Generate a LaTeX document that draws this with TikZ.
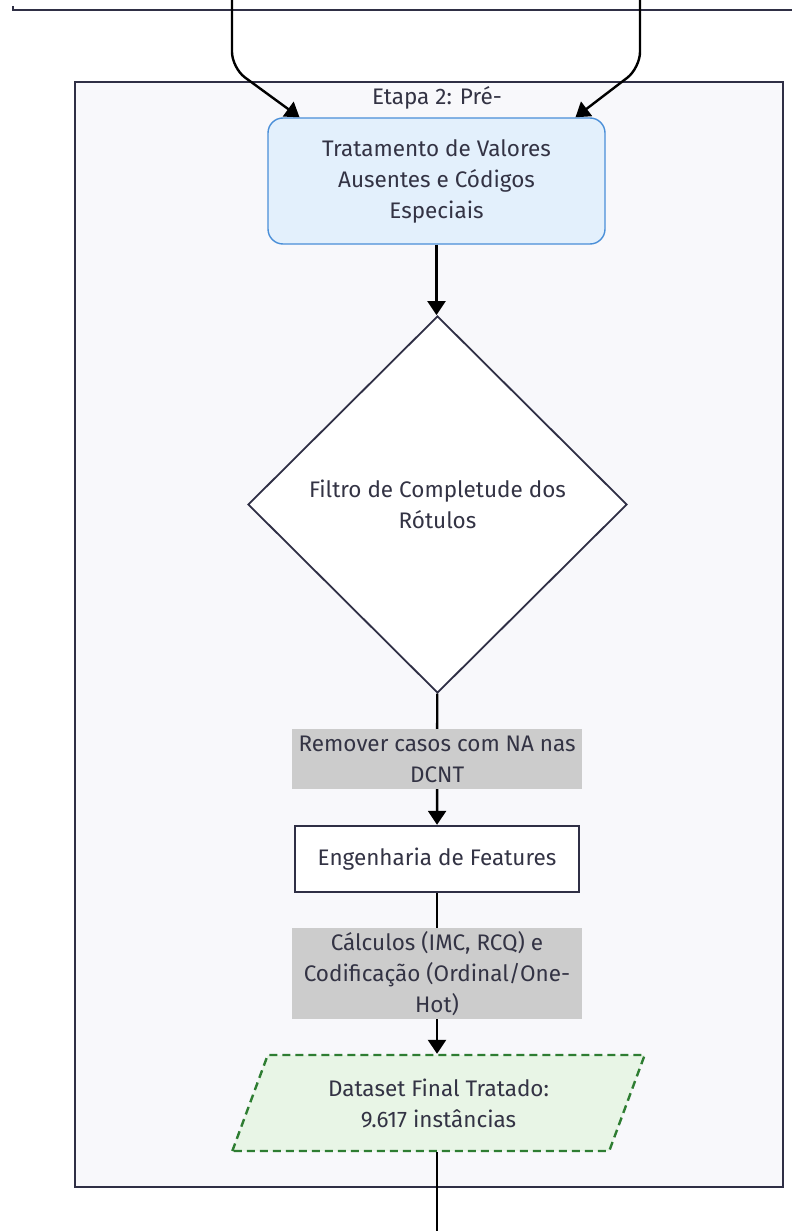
\documentclass[tikz,border=0pt]{standalone}
\usepackage{fontspec}
\setmainfont{Fira Sans}
\usepackage{tikz}
\usetikzlibrary{arrows.meta}
\usetikzlibrary{positioning}
\usetikzlibrary{shapes.geometric}
\tikzset{flow/.style = {draw=black, line width=2.4pt,
                        -{Triangle[length=14pt, width=18pt]}},
         wire/.style = {draw=black, line width=2.4pt},
         edgelbl/.style = {fill=lblgray, text=txtdark, align=center,
                           minimum width=290pt, minimum height=60pt,
                           inner sep=0pt}}
\definecolor{txtdark}{HTML}{333344}
\definecolor{framedark}{HTML}{2F2F45}
\definecolor{clusterbg}{HTML}{F8F8FB}
\definecolor{bluefill}{HTML}{E3F0FC}
\definecolor{blueline}{HTML}{4A8FD8}
\definecolor{lblgray}{HTML}{CCCCCC}
\definecolor{greenfill}{HTML}{E8F5E6}
\definecolor{greenline}{HTML}{2E7D32}

\begin{document}
\begin{tikzpicture}[x=1pt, y=-1pt, font=\fontsize{22.5}{31}\selectfont]
    \useasboundingbox (0, 0) rectangle (792, 1231);

    % bottom edge of the previous stage
    \draw [framedark, line width=2.4pt] (13, 6) -- (13, 10) -- (800, 10);

    % stage frame
    \draw [framedark, fill=clusterbg, line width=2pt] (75, 82) rectangle (783, 1187);
    \node (title) [text=txtdark] at (437, 98) {Etapa 2: Pré-};

    \node (trat) [draw=blueline, fill=bluefill, line width=1.4pt, rounded corners=15pt,
                  text=txtdark, align=center, minimum width=337pt, minimum height=126pt]
          at (436.5, 181) {Tratamento de Valores\\Ausentes e Códigos\\Especiais};

    \node (filtro) [diamond, draw=framedark, fill=white, line width=1.8pt, text=txtdark,
                    align=center, minimum width=379pt, minimum height=377pt, inner sep=0pt]
          at (437.5, 504.5) {Filtro de Completude dos\\Rótulos};

    \node (feat) [draw=framedark, fill=white, line width=2.4pt, text=txtdark,
                  minimum width=284pt, minimum height=66pt]
          at (437, 859) {Engenharia de Features};

    \node (final) [trapezium, trapezium left angle=67, trapezium right angle=113,
                   trapezium stretches=true, draw=greenline, fill=greenfill,
                   dashed, dash pattern=on 8pt off 5pt, line width=2.4pt, text=txtdark,
                   align=center, minimum width=413pt, minimum height=96pt]
          at (438.5, 1103) {Dataset Final Tratado:\\9.617 instâncias};

    % incoming edges from stage 1
    \coordinate (srcL) at (232, 0);
    \coordinate (srcR) at (640, 0);
    \draw [flow, rounded corners=16pt] (srcL) -- (232, 68) -- ([xshift=-137pt]trat.north);
    \draw [flow, rounded corners=16pt] (srcR) -- (640, 68) -- ([xshift=139pt]trat.north);

    \draw [flow] (trat) -- (trat |- filtro.north);
    \draw [flow] (filtro) -- node [edgelbl] {Remover casos com NA nas\\DCNT} (feat);
    \draw [flow] (feat) -- node [edgelbl, minimum height=91pt]
          {Cálculos (IMC, RCQ) e\\Codificação (Ordinal/One-\\Hot)} (feat |- final.north);

    % outgoing edge to the next stage
    \coordinate (sink) at (437, 1231);
    \draw [wire] (feat |- final.south) -- (sink);
  \end{tikzpicture}
\end{document}
